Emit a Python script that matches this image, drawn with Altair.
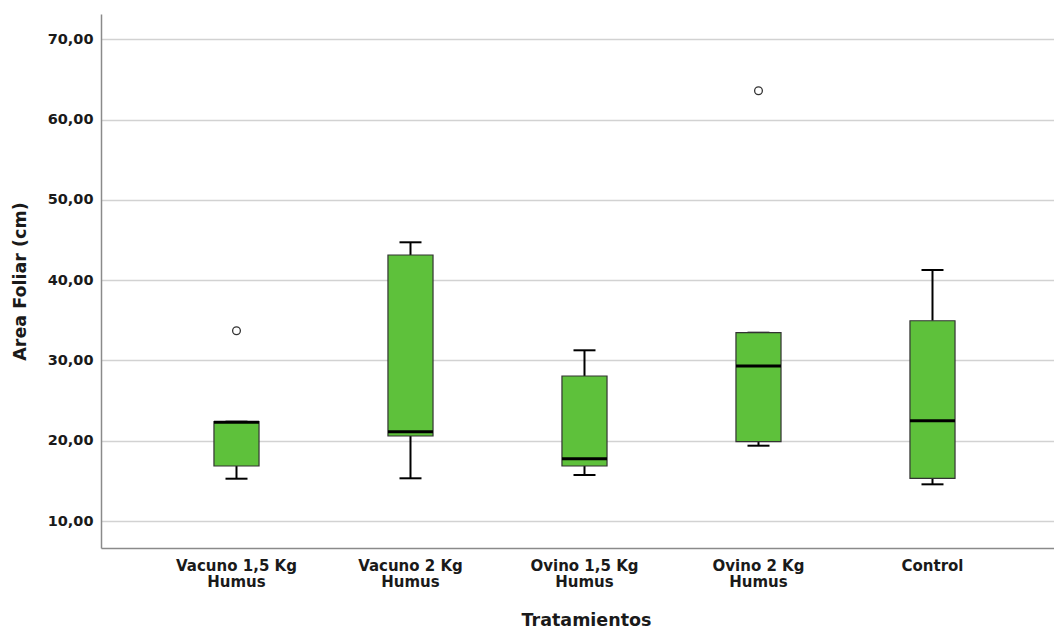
import altair as alt
import pandas as pd

# Treatment groups (line break splits the axis label in two)
categories = [
    "Vacuno 1,5 Kg\nHumus",
    "Vacuno 2 Kg\nHumus",
    "Ovino 1,5 Kg\nHumus",
    "Ovino 2 Kg\nHumus",
    "Control",
]

# Box plot summary statistics per group
whisker_low = [15.27, 15.32, 15.73, 19.38, 14.57]
q1 = [16.85, 20.59, 16.85, 19.88, 15.32]
median = [22.29, 21.12, 17.76, 29.30, 22.49]
q3 = [22.37, 43.13, 28.06, 33.45, 34.94]
whisker_high = [22.37, 44.71, 31.26, 33.45, 41.26]

# Outlying observations
outlier_group = ["Vacuno 1,5 Kg\nHumus", "Ovino 2 Kg\nHumus"]
outlier_value = [33.70, 63.59]

y_ticks = [10, 20, 30, 40, 50, 60, 70]

stats = pd.DataFrame({
    "grupo": categories,
    "lo": whisker_low,
    "q1": q1,
    "med": median,
    "q3": q3,
    "hi": whisker_high,
})
outliers = pd.DataFrame({"grupo": outlier_group, "valor": outlier_value})

FONT = "DejaVu Sans"
GREEN = "#5ec13b"

x_enc = alt.X(
    "grupo:N",
    sort=categories,
    scale=alt.Scale(paddingInner=0.741, paddingOuter=0.609, align=0.533),
    axis=alt.Axis(
        title="Tratamientos",
        labelAngle=0,
        labelExpr="split(datum.value, '\\n')",
        labelLineHeight=16,
        labelFont=FONT,
        labelFontSize=15,
        labelFontWeight="bold",
        labelColor="#1a1a1a",
        labelPadding=10,
        ticks=False,
        domainColor="#8a8a8a",
        domainWidth=1.5,
        grid=False,
        titleFont=FONT,
        titleFontSize=17.5,
        titleFontWeight="bold",
        titleColor="#1a1a1a",
        titleX=485,
        titleY=72,
        titleBaseline="middle",
    ),
)

y_scale = alt.Scale(domain=[6.64, 73.14], nice=False, zero=False)
y_axis = alt.Axis(
    title="Area Foliar (cm)",
    values=y_ticks,
    labelExpr="replace(format(datum.value, '.2f'), '.', ',')",
    labelFont=FONT,
    labelFontSize=14.5,
    labelFontWeight="bold",
    labelColor="#1a1a1a",
    labelPadding=8,
    ticks=False,
    domainColor="#8a8a8a",
    domainWidth=1.5,
    gridColor="#d2d2d2",
    gridWidth=1.5,
    titleFont=FONT,
    titleFontSize=17.5,
    titleFontWeight="bold",
    titleColor="#1a1a1a",
    titleX=-81,
    titleY=267,
    titleAngle=-90,
    titleBaseline="middle",
    titleAlign="center",
)

base = alt.Chart(stats).encode(x=x_enc)

whisker_upper = base.mark_rule(color="black", strokeWidth=2).encode(
    y=alt.Y("q3:Q", scale=y_scale, axis=y_axis), y2="hi:Q"
)
whisker_lower = base.mark_rule(color="black", strokeWidth=2).encode(
    y=alt.Y("lo:Q", scale=y_scale), y2="q1:Q"
)
cap_high = base.mark_tick(color="black", size=22, thickness=2, opacity=1).encode(
    y=alt.Y("hi:Q", scale=y_scale)
)
cap_low = base.mark_tick(color="black", size=22, thickness=2, opacity=1).encode(
    y=alt.Y("lo:Q", scale=y_scale)
)
box = base.mark_bar(fill=GREEN, stroke="#333333", strokeWidth=1.2).encode(
    y=alt.Y("q1:Q", scale=y_scale), y2="q3:Q"
)
med_line = base.mark_tick(color="black", size=45, thickness=3, opacity=1).encode(
    y=alt.Y("med:Q", scale=y_scale)
)
points = alt.Chart(outliers).mark_point(
    filled=False, size=60, stroke="#333333", strokeWidth=1.3, opacity=1
).encode(
    x=alt.X("grupo:N", sort=categories),
    y=alt.Y("valor:Q", scale=y_scale),
)

chart = (
    alt.layer(whisker_upper, whisker_lower, cap_high, cap_low, box, med_line, points)
    .properties(
        width=953,
        height=534,
        autosize=alt.AutoSizeParams(type="none"),
        padding={"left": 101, "top": 14, "right": 0, "bottom": 80},
        background="white",
    )
    .configure_view(strokeWidth=0)
)

chart.save("out.html", embed_options={"renderer": "svg", "actions": False})
